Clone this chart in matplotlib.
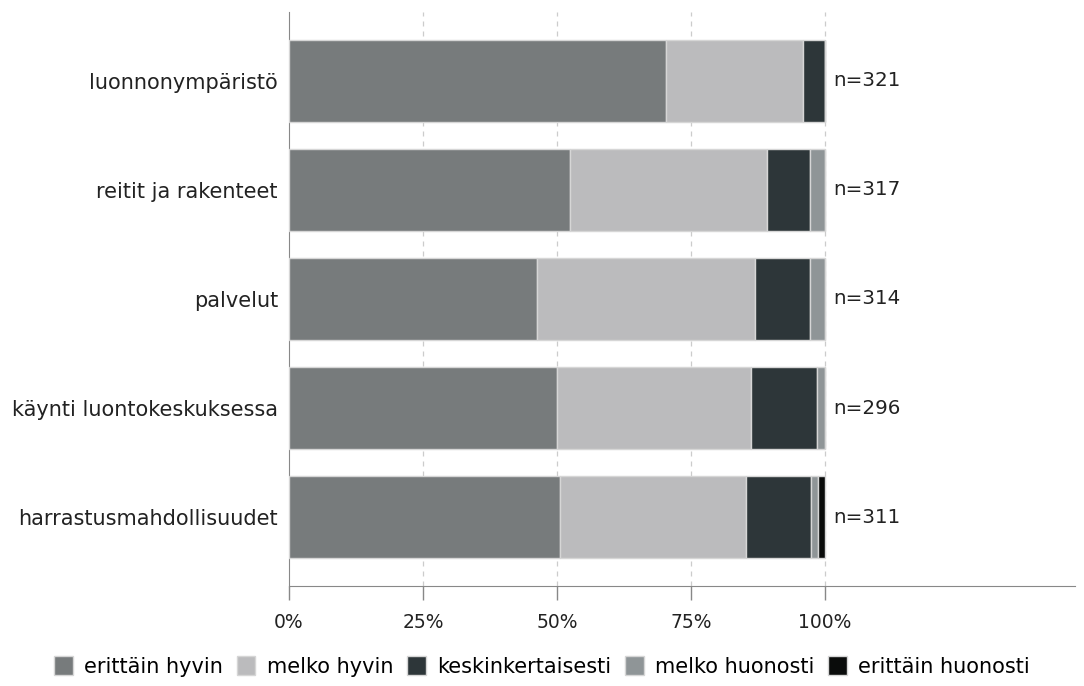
import matplotlib
matplotlib.use('Agg')
import matplotlib.pyplot as plt
import numpy as np

categories = ['luonnonympäristö', 'reitit ja rakenteet', 'palvelut',
              'käynti luontokeskuksessa', 'harrastusmahdollisuudet']
n_labels = ['n=321', 'n=317', 'n=314', 'n=296', 'n=311']

series_names = ['erittäin hyvin', 'melko hyvin', 'keskinkertaisesti',
                'melko huonosti', 'erittäin huonosti']
erittain_hyvin = [70.3, 52.4, 46.3, 50.0, 50.6]
melko_hyvin = [25.6, 36.8, 40.7, 36.1, 34.7]
keskinkertaisesti = [4.1, 7.9, 10.1, 12.3, 12.0]
melko_huonosti = [0.0, 2.9, 2.9, 1.6, 1.3]
erittain_huonosti = [0.0, 0.0, 0.0, 0.0, 1.4]

colors = ['#777b7c', '#bbbbbd', '#2d3639', '#8f9597', '#0a0c0b']
ticks = [0, 25, 50, 75, 100]
tick_labels = ['0%', '25%', '50%', '75%', '100%']


def draw_chart():
    fig = plt.figure(figsize=(10.84, 6.86), dpi=100)
    ax = fig.add_axes([0.2666, 0.1458, 0.7251, 0.8367])

    series = [erittain_hyvin, melko_hyvin, keskinkertaisesti,
              melko_huonosti, erittain_huonosti]
    y = np.arange(len(categories))
    left = np.zeros(len(categories))
    for name, vals, col in zip(series_names, series, colors):
        ax.barh(y, vals, left=left, height=0.75, color=col,
                edgecolor='#d6d6d6', linewidth=1, label=name, zorder=3)
        left += np.array(vals)

    for i, lab in enumerate(n_labels):
        ax.text(101.5, y[i], lab, va='center', ha='left', fontsize=14.3,
                color='#222222')

    ax.set_xlim(0, 146.6)
    ax.set_ylim(4.63, -0.63)
    ax.set_yticks(y)
    ax.set_yticklabels(categories, fontsize=15, color='#222222')
    ax.set_xticks(ticks)
    ax.set_xticklabels(tick_labels, fontsize=13.5, color='#222222')
    ax.tick_params(axis='y', length=0, pad=8)
    ax.tick_params(axis='x', length=10, pad=9.5, color='#888888', width=1)

    for x in ticks[1:]:
        ax.axvline(x, color='#cccccc', linestyle=(0, (4, 4)), linewidth=0.9,
                   zorder=1)

    for s in ['top', 'right']:
        ax.spines[s].set_visible(False)
    ax.spines['left'].set_color('#888888')
    ax.spines['bottom'].set_color('#888888')

    fig.legend(loc='lower center', bbox_to_anchor=(0.5, -0.014), ncol=5,
               frameon=False, fontsize=15, handlelength=0.9,
               handleheight=1.0, handletextpad=0.55, columnspacing=0.65)

    fig.savefig('out.png', dpi=100)


def main():
    draw_chart()


if __name__ == '__main__':
    main()
